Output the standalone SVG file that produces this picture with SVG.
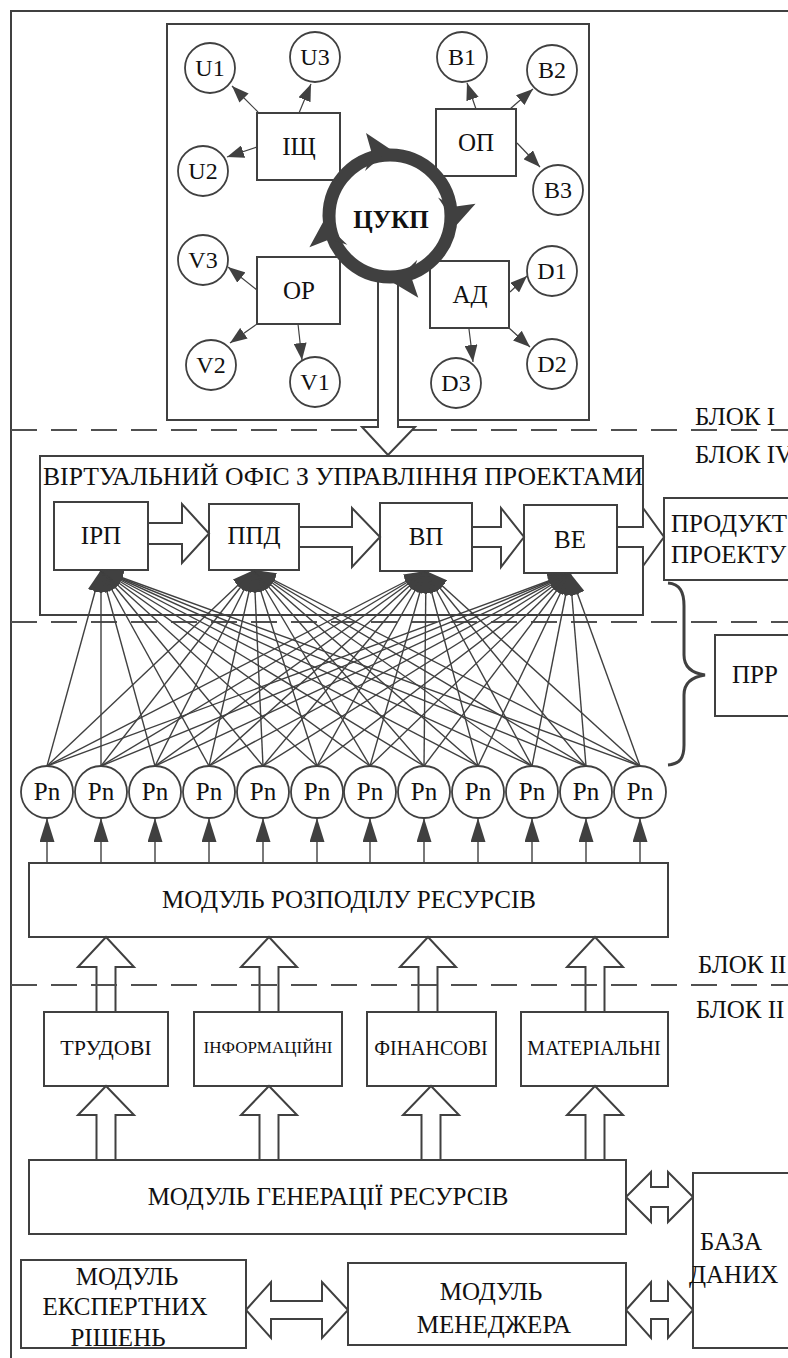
<svg xmlns="http://www.w3.org/2000/svg" width="788" height="1358" viewBox="0 0 788 1358">
<style>
  text{font-family:"Liberation Serif","Times New Roman",serif;font-size:25px;fill:#111}
  .c{text-anchor:middle}
  .bx{fill:#fff;stroke:#404040;stroke-width:2}
  .open{fill:none;stroke:#404040;stroke-width:2}
  .nd{fill:#fff;stroke:#404040;stroke-width:1.8}
  .sm{fill:none;stroke:#404040;stroke-width:1.2;marker-end:url(#ah)}
  .up{fill:none;stroke:#404040;stroke-width:1.4;marker-end:url(#ahTall)}
  .dash{fill:none;stroke:#505050;stroke-width:2;stroke-dasharray:26 14}
  .hol{fill:#fff;stroke:#404040;stroke-width:2;stroke-linejoin:miter}
  .fan line{stroke:#404040;stroke-width:1.4;marker-end:url(#ahFan)}
  .ring{fill:none;stroke:#404040;stroke-width:13}
  .rh{fill:#404040}
  .lbl{font-size:24px}
</style>
<defs>
  <marker id="ah" markerUnits="userSpaceOnUse" markerWidth="17" markerHeight="13" refX="17" refY="6.5" orient="auto">
    <path d="M0,0 L17,6.5 L0,13 z" fill="#404040"/>
  </marker>
  <marker id="ahTall" markerUnits="userSpaceOnUse" markerWidth="24" markerHeight="15" refX="24" refY="7.5" orient="auto">
    <path d="M0,0 L24,7.5 L0,15 z" fill="#404040"/>
  </marker>
  <marker id="ahFan" markerUnits="userSpaceOnUse" markerWidth="22" markerHeight="15" refX="22" refY="7.5" orient="auto">
    <path d="M0,0 L22,7.5 L0,15 z" fill="#404040"/>
  </marker>
  <!-- barbed head of the cycle ring, tip pointing clockwise at angle 0 -->
  <path id="ringHead" d="M67,0 L83,-24 L62,-18 L45,-25 z"/>
</defs>

<!-- outer frame -->
<path class="open" d="M11,1358 L11,11 L788,11"/>

<!-- block separators -->
<g id="separators">
  <line class="dash" x1="11" y1="430" x2="788" y2="430"/>
  <line class="dash" x1="11" y1="622" x2="788" y2="622"/>
</g>

<!-- block I: project management cycle -->
<rect id="block1" class="open" x="167" y="24" width="422" height="396"/>

<g id="connectors-cycle">
  <line class="sm" x1="258" y1="112" x2="232" y2="86"/>
  <line class="sm" x1="299" y1="113" x2="311" y2="84"/>
  <line class="sm" x1="257" y1="147" x2="227" y2="157"/>
  <line class="sm" x1="476" y1="109" x2="467" y2="83"/>
  <line class="sm" x1="510" y1="109" x2="533" y2="89"/>
  <line class="sm" x1="517" y1="143" x2="540" y2="167"/>
  <line class="sm" x1="257" y1="290" x2="228" y2="267"/>
  <line class="sm" x1="257" y1="324" x2="230" y2="343"/>
  <line class="sm" x1="298" y1="324" x2="302" y2="360"/>
  <line class="sm" x1="510" y1="292" x2="527" y2="276"/>
  <line class="sm" x1="509" y1="328" x2="530" y2="347"/>
  <line class="sm" x1="469" y1="329" x2="473" y2="362"/>
</g>

<g id="U1"><circle class="nd" cx="210" cy="68" r="25"/><text class="c lbl" x="210" y="76">U1</text></g>
<g id="U3"><circle class="nd" cx="315" cy="57" r="25"/><text class="c lbl" x="315" y="65">U3</text></g>
<g id="U2"><circle class="nd" cx="203" cy="171" r="25"/><text class="c lbl" x="203" y="179">U2</text></g>
<g id="B1"><circle class="nd" cx="462" cy="57" r="25"/><text class="c lbl" x="462" y="65">B1</text></g>
<g id="B2"><circle class="nd" cx="552" cy="70" r="25"/><text class="c lbl" x="552" y="78">B2</text></g>
<g id="B3"><circle class="nd" cx="558" cy="190" r="25"/><text class="c lbl" x="558" y="198">B3</text></g>
<g id="V3"><circle class="nd" cx="203" cy="260" r="25"/><text class="c lbl" x="203" y="268">V3</text></g>
<g id="V2"><circle class="nd" cx="211" cy="365" r="25"/><text class="c lbl" x="211" y="373">V2</text></g>
<g id="V1"><circle class="nd" cx="315" cy="382" r="25"/><text class="c lbl" x="315" y="390">V1</text></g>
<g id="D1"><circle class="nd" cx="552" cy="271" r="25"/><text class="c lbl" x="552" y="279">D1</text></g>
<g id="D2"><circle class="nd" cx="552" cy="364" r="25"/><text class="c lbl" x="552" y="372">D2</text></g>
<g id="D3"><circle class="nd" cx="456" cy="383" r="25"/><text class="c lbl" x="456" y="391">D3</text></g>

<g id="IShch"><rect class="bx" x="257" y="113" width="83" height="67"/><text class="c" x="299" y="155">ІЩ</text></g>
<g id="OP"><rect class="bx" x="436" y="109" width="80" height="67"/><text class="c" x="476" y="151">ОП</text></g>
<g id="OR"><rect class="bx" x="257" y="257" width="83" height="67"/><text class="c" x="299" y="299">ОР</text></g>
<g id="AD"><rect class="bx" x="430" y="261" width="79" height="67"/><text class="c" x="470" y="303">АД</text></g>

<!-- output of block I into the virtual office -->
<polygon class="hol" points="378,275 378,427 362,427 388,455 415,427 398,427 398,275"/>

<g id="TsUKP">
  <circle class="ring" cx="390" cy="216" r="61"/>
  <g class="rh">
    <use href="#ringHead" transform="translate(390,216) rotate(-90)"/>
    <use href="#ringHead" transform="translate(390,216) rotate(8)"/>
    <use href="#ringHead" transform="translate(390,216) rotate(87)"/>
    <use href="#ringHead" transform="translate(390,216) rotate(175)"/>
  </g>
  <text class="c" x="391" y="228" font-weight="bold">ЦУКП</text>
</g>

<text x="695" y="425">БЛОК I</text>
<text x="695" y="463">БЛОК IV</text>

<!-- block IV: virtual office -->
<g id="virtual-office">
  <rect class="open" x="40" y="456" width="603" height="159"/>
  <text x="43" y="485" textLength="600" lengthAdjust="spacingAndGlyphs">ВІРТУАЛЬНИЙ ОФІС З УПРАВЛІННЯ ПРОЕКТАМИ</text>
</g>
<g id="IRP"><rect class="bx" x="54" y="502" width="94" height="68"/><text class="c" x="101" y="544">ІРП</text></g>
<g id="PPD"><rect class="bx" x="209" y="504" width="90" height="66"/><text class="c" x="254" y="544">ППД</text></g>
<g id="VP"><rect class="bx" x="380" y="503" width="92" height="68"/><text class="c" x="426" y="545">ВП</text></g>
<g id="VE"><rect class="bx" x="524" y="505" width="93" height="68"/><text class="c" x="570" y="548">ВЕ</text></g>
<g id="product"><rect class="bx" x="664" y="498" width="140" height="82"/>
  <text x="671" y="532">ПРОДУКТ</text><text x="671" y="563">ПРОЕКТУ</text></g>

<g id="connectors-office">
  <polygon class="hol" points="148,523 182,523 182,504 209,533.5 182,563 182,544 148,544"/>
  <polygon class="hol" points="299,527 352,527 352,508 380,537 352,567 352,547 299,547"/>
  <polygon class="hol" points="472,527 501,527 501,508 524,537 501,567 501,547 472,547"/>
  <polygon class="hol" points="617,527 643,527 643,508 664,537 643,566 643,547 617,547"/>
</g>

<!-- resource flows from the Pn units to the office stages -->
<g id="connectors-fan" class="fan">
  <line x1="47" y1="766" x2="101" y2="570"/><line x1="101" y1="766" x2="101" y2="570"/>
  <line x1="155" y1="766" x2="101" y2="570"/><line x1="209" y1="766" x2="101" y2="570"/>
  <line x1="263" y1="766" x2="101" y2="570"/><line x1="317" y1="766" x2="101" y2="570"/>
  <line x1="370" y1="766" x2="101" y2="570"/><line x1="424" y1="766" x2="101" y2="570"/>
  <line x1="478" y1="766" x2="101" y2="570"/><line x1="532" y1="766" x2="101" y2="570"/>
  <line x1="586" y1="766" x2="101" y2="570"/><line x1="640" y1="766" x2="101" y2="570"/>

  <line x1="47" y1="766" x2="254" y2="570"/><line x1="101" y1="766" x2="254" y2="570"/>
  <line x1="155" y1="766" x2="254" y2="570"/><line x1="209" y1="766" x2="254" y2="570"/>
  <line x1="263" y1="766" x2="254" y2="570"/><line x1="317" y1="766" x2="254" y2="570"/>
  <line x1="370" y1="766" x2="254" y2="570"/><line x1="424" y1="766" x2="254" y2="570"/>
  <line x1="478" y1="766" x2="254" y2="570"/><line x1="532" y1="766" x2="254" y2="570"/>
  <line x1="586" y1="766" x2="254" y2="570"/><line x1="640" y1="766" x2="254" y2="570"/>

  <line x1="47" y1="766" x2="426" y2="571"/><line x1="101" y1="766" x2="426" y2="571"/>
  <line x1="155" y1="766" x2="426" y2="571"/><line x1="209" y1="766" x2="426" y2="571"/>
  <line x1="263" y1="766" x2="426" y2="571"/><line x1="317" y1="766" x2="426" y2="571"/>
  <line x1="370" y1="766" x2="426" y2="571"/><line x1="424" y1="766" x2="426" y2="571"/>
  <line x1="478" y1="766" x2="426" y2="571"/><line x1="532" y1="766" x2="426" y2="571"/>
  <line x1="586" y1="766" x2="426" y2="571"/><line x1="640" y1="766" x2="426" y2="571"/>

  <line x1="47" y1="766" x2="570" y2="573"/><line x1="101" y1="766" x2="570" y2="573"/>
  <line x1="155" y1="766" x2="570" y2="573"/><line x1="209" y1="766" x2="570" y2="573"/>
  <line x1="263" y1="766" x2="570" y2="573"/><line x1="317" y1="766" x2="570" y2="573"/>
  <line x1="370" y1="766" x2="570" y2="573"/><line x1="424" y1="766" x2="570" y2="573"/>
  <line x1="478" y1="766" x2="570" y2="573"/><line x1="532" y1="766" x2="570" y2="573"/>
  <line x1="586" y1="766" x2="570" y2="573"/><line x1="640" y1="766" x2="570" y2="573"/>
</g>

<!-- brace grouping the distribution layer -->
<path d="M668,583 C680,584 684,592 684,606 L684,655 C684,667 691,673 705,675 C691,677 684,683 684,695 L684,745 C684,758 680,764 668,765" fill="none" stroke="#404040" stroke-width="3"/>
<g id="PRR"><rect class="bx" x="715" y="635" width="90" height="81"/><text x="732" y="683">ПРР</text></g>

<!-- Pn resource units -->
<g id="connectors-pn">
  <line class="up" x1="47" y1="863" x2="47" y2="818"/><line class="up" x1="101" y1="863" x2="101" y2="818"/>
  <line class="up" x1="155" y1="863" x2="155" y2="818"/><line class="up" x1="209" y1="863" x2="209" y2="818"/>
  <line class="up" x1="263" y1="863" x2="263" y2="818"/><line class="up" x1="317" y1="863" x2="317" y2="818"/>
  <line class="up" x1="370" y1="863" x2="370" y2="818"/><line class="up" x1="424" y1="863" x2="424" y2="818"/>
  <line class="up" x1="478" y1="863" x2="478" y2="818"/><line class="up" x1="532" y1="863" x2="532" y2="818"/>
  <line class="up" x1="586" y1="863" x2="586" y2="818"/><line class="up" x1="640" y1="863" x2="640" y2="818"/>
</g>
<g id="Pn1"><circle class="nd" cx="47" cy="792" r="26"/><text class="c" x="47" y="800">Pn</text></g>
<g id="Pn2"><circle class="nd" cx="101" cy="792" r="26"/><text class="c" x="101" y="800">Pn</text></g>
<g id="Pn3"><circle class="nd" cx="155" cy="792" r="26"/><text class="c" x="155" y="800">Pn</text></g>
<g id="Pn4"><circle class="nd" cx="209" cy="792" r="26"/><text class="c" x="209" y="800">Pn</text></g>
<g id="Pn5"><circle class="nd" cx="263" cy="792" r="26"/><text class="c" x="263" y="800">Pn</text></g>
<g id="Pn6"><circle class="nd" cx="317" cy="792" r="26"/><text class="c" x="317" y="800">Pn</text></g>
<g id="Pn7"><circle class="nd" cx="370" cy="792" r="26"/><text class="c" x="370" y="800">Pn</text></g>
<g id="Pn8"><circle class="nd" cx="424" cy="792" r="26"/><text class="c" x="424" y="800">Pn</text></g>
<g id="Pn9"><circle class="nd" cx="478" cy="792" r="26"/><text class="c" x="478" y="800">Pn</text></g>
<g id="Pn10"><circle class="nd" cx="532" cy="792" r="26"/><text class="c" x="532" y="800">Pn</text></g>
<g id="Pn11"><circle class="nd" cx="586" cy="792" r="26"/><text class="c" x="586" y="800">Pn</text></g>
<g id="Pn12"><circle class="nd" cx="640" cy="792" r="26"/><text class="c" x="640" y="800">Pn</text></g>

<g id="distribution"><rect class="bx" x="29" y="863" width="639" height="74"/>
  <text class="c" x="349" y="908">МОДУЛЬ РОЗПОДІЛУ РЕСУРСІВ</text></g>

<!-- resource types feeding the distribution module -->
<g id="connectors-resources">
  <polygon class="hol" points="96.5,1012 96.5,967 78,967 106,937 134,967 115.5,967 115.5,1012"/>
  <polygon class="hol" points="259.5,1012 259.5,967 241,967 269,937 297,967 278.5,967 278.5,1012"/>
  <polygon class="hol" points="418.5,1012 418.5,967 400,967 428,937 456,967 437.5,967 437.5,1012"/>
  <polygon class="hol" points="585.5,1012 585.5,967 567,967 595,937 623,967 604.5,967 604.5,1012"/>
</g>
<line class="dash" x1="11" y1="985" x2="788" y2="985"/>
<text x="698" y="973">БЛОК II</text>
<text x="696" y="1018">БЛОК II</text>

<g id="labour"><rect class="bx" x="44" y="1012" width="124" height="74"/><text class="c" x="106" y="1055" style="font-size:22px">ТРУДОВІ</text></g>
<g id="information"><rect class="bx" x="194" y="1012" width="148" height="74"/><text class="c" x="268" y="1053" style="font-size:17px">ІНФОРМАЦІЙНІ</text></g>
<g id="financial"><rect class="bx" x="367" y="1012" width="129" height="74"/><text class="c" x="431" y="1055" style="font-size:20px">ФІНАНСОВІ</text></g>
<g id="material"><rect class="bx" x="521" y="1012" width="147" height="74"/><text class="c" x="594" y="1055" style="font-size:20px">МАТЕРІАЛЬНІ</text></g>

<g id="connectors-generation">
  <polygon class="hol" points="96.5,1160 96.5,1115 78,1115 106,1086 134,1115 115.5,1115 115.5,1160"/>
  <polygon class="hol" points="259.5,1160 259.5,1115 241,1115 269,1086 297,1115 278.5,1115 278.5,1160"/>
  <polygon class="hol" points="421.5,1160 421.5,1115 403,1115 431,1086 459,1115 440.5,1115 440.5,1160"/>
  <polygon class="hol" points="585.5,1160 585.5,1115 567,1115 595,1086 623,1115 604.5,1115 604.5,1160"/>
  <polygon class="hol" points="626,1197 651,1172 651,1187 668,1187 668,1172 693,1197 668,1222 668,1207 651,1207 651,1222"/>
  <polygon class="hol" points="246,1310 271,1282 271,1301 322,1301 322,1282 348,1310 322,1338 322,1319 271,1319 271,1338"/>
  <polygon class="hol" points="626,1310 651,1282 651,1301 668,1301 668,1282 693,1310 668,1338 668,1319 651,1319 651,1338"/>
</g>

<g id="generation"><rect class="bx" x="29" y="1160" width="597" height="74"/>
  <text class="c" x="328" y="1205">МОДУЛЬ ГЕНЕРАЦІЇ РЕСУРСІВ</text></g>
<g id="database"><rect class="bx" x="693" y="1173" width="120" height="175"/>
  <text x="700" y="1250">БАЗА</text><text x="689" y="1283">ДАНИХ</text></g>
<g id="expert"><rect class="bx" x="21" y="1260" width="225" height="88"/>
  <text class="c" x="127" y="1285">МОДУЛЬ</text><text class="c" x="125" y="1315">ЕКСПЕРТНИХ</text><text class="c" x="118" y="1346">РІШЕНЬ</text></g>
<g id="manager"><rect class="bx" x="348" y="1263" width="278" height="82"/>
  <text class="c" x="491" y="1300">МОДУЛЬ</text><text class="c" x="494" y="1333">МЕНЕДЖЕРА</text></g>
</svg>
